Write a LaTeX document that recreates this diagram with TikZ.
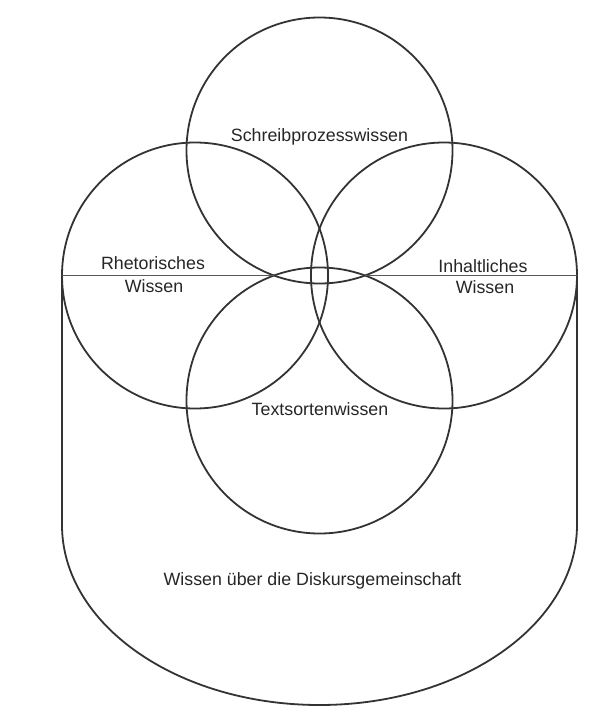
\documentclass[tikz,border=0pt]{standalone}
\usepackage{fontspec}
\setmainfont{Liberation Sans}
\begin{document}
\begin{tikzpicture}[x=1pt,y=-1pt,
  ring/.style={circle, draw=black!80, line width=1.8pt, minimum size=266pt, inner sep=0pt},
  lbl/.style={font=\fontsize{17.8}{23}\selectfont, text=black!85, align=center, inner sep=0pt},
  outline/.style={draw=black!80, line width=1.8pt},
  midline/.style={draw=black!65, line width=1.2pt}]
\useasboundingbox[fill=white] (0,0) rectangle (605,718);
% circles
\node[ring] (top) at (319.5,150.5) {};
\node[ring] (left) at (195,275.5) {};
\node[ring] (right) at (444,275.5) {};
\node[ring] (bottom) at (319.5,400.5) {};
% outer U shape
\coordinate (ul) at (62,275.5);
\coordinate (ur) at (577,275.5);
\coordinate (ll) at (62,525);
\coordinate (lr) at (577,525);
\draw[outline] (ul) -- (ll) arc[start angle=180, end angle=360, x radius=257.5pt, y radius=180pt] -- (ur);
% horizontal lines to the crossings of top and bottom circles
\coordinate (xl) at (274.1,275.5);
\coordinate (xr) at (364.9,275.5);
\draw[midline] (ul) -- (xl);
\draw[midline] (xr) -- (ur);
% labels
\node[lbl, anchor=base] (t1) at (319.5,141.5) {Schreibprozesswissen};
\node[lbl, anchor=base] (t2) at (153,269) {Rhetorisches};
\node[lbl, anchor=base] (t2b) at (154,292) {Wissen};
\node[lbl, anchor=base] (t3) at (483,272) {Inhaltliches};
\node[lbl, anchor=base] (t3b) at (485,293.5) {Wissen};
\node[lbl, anchor=base] (t4) at (320,415) {Textsortenwissen};
\node[lbl, anchor=base] (t5) at (312.5,585) {Wissen über die Diskursgemeinschaft};
\end{tikzpicture}
\end{document}
